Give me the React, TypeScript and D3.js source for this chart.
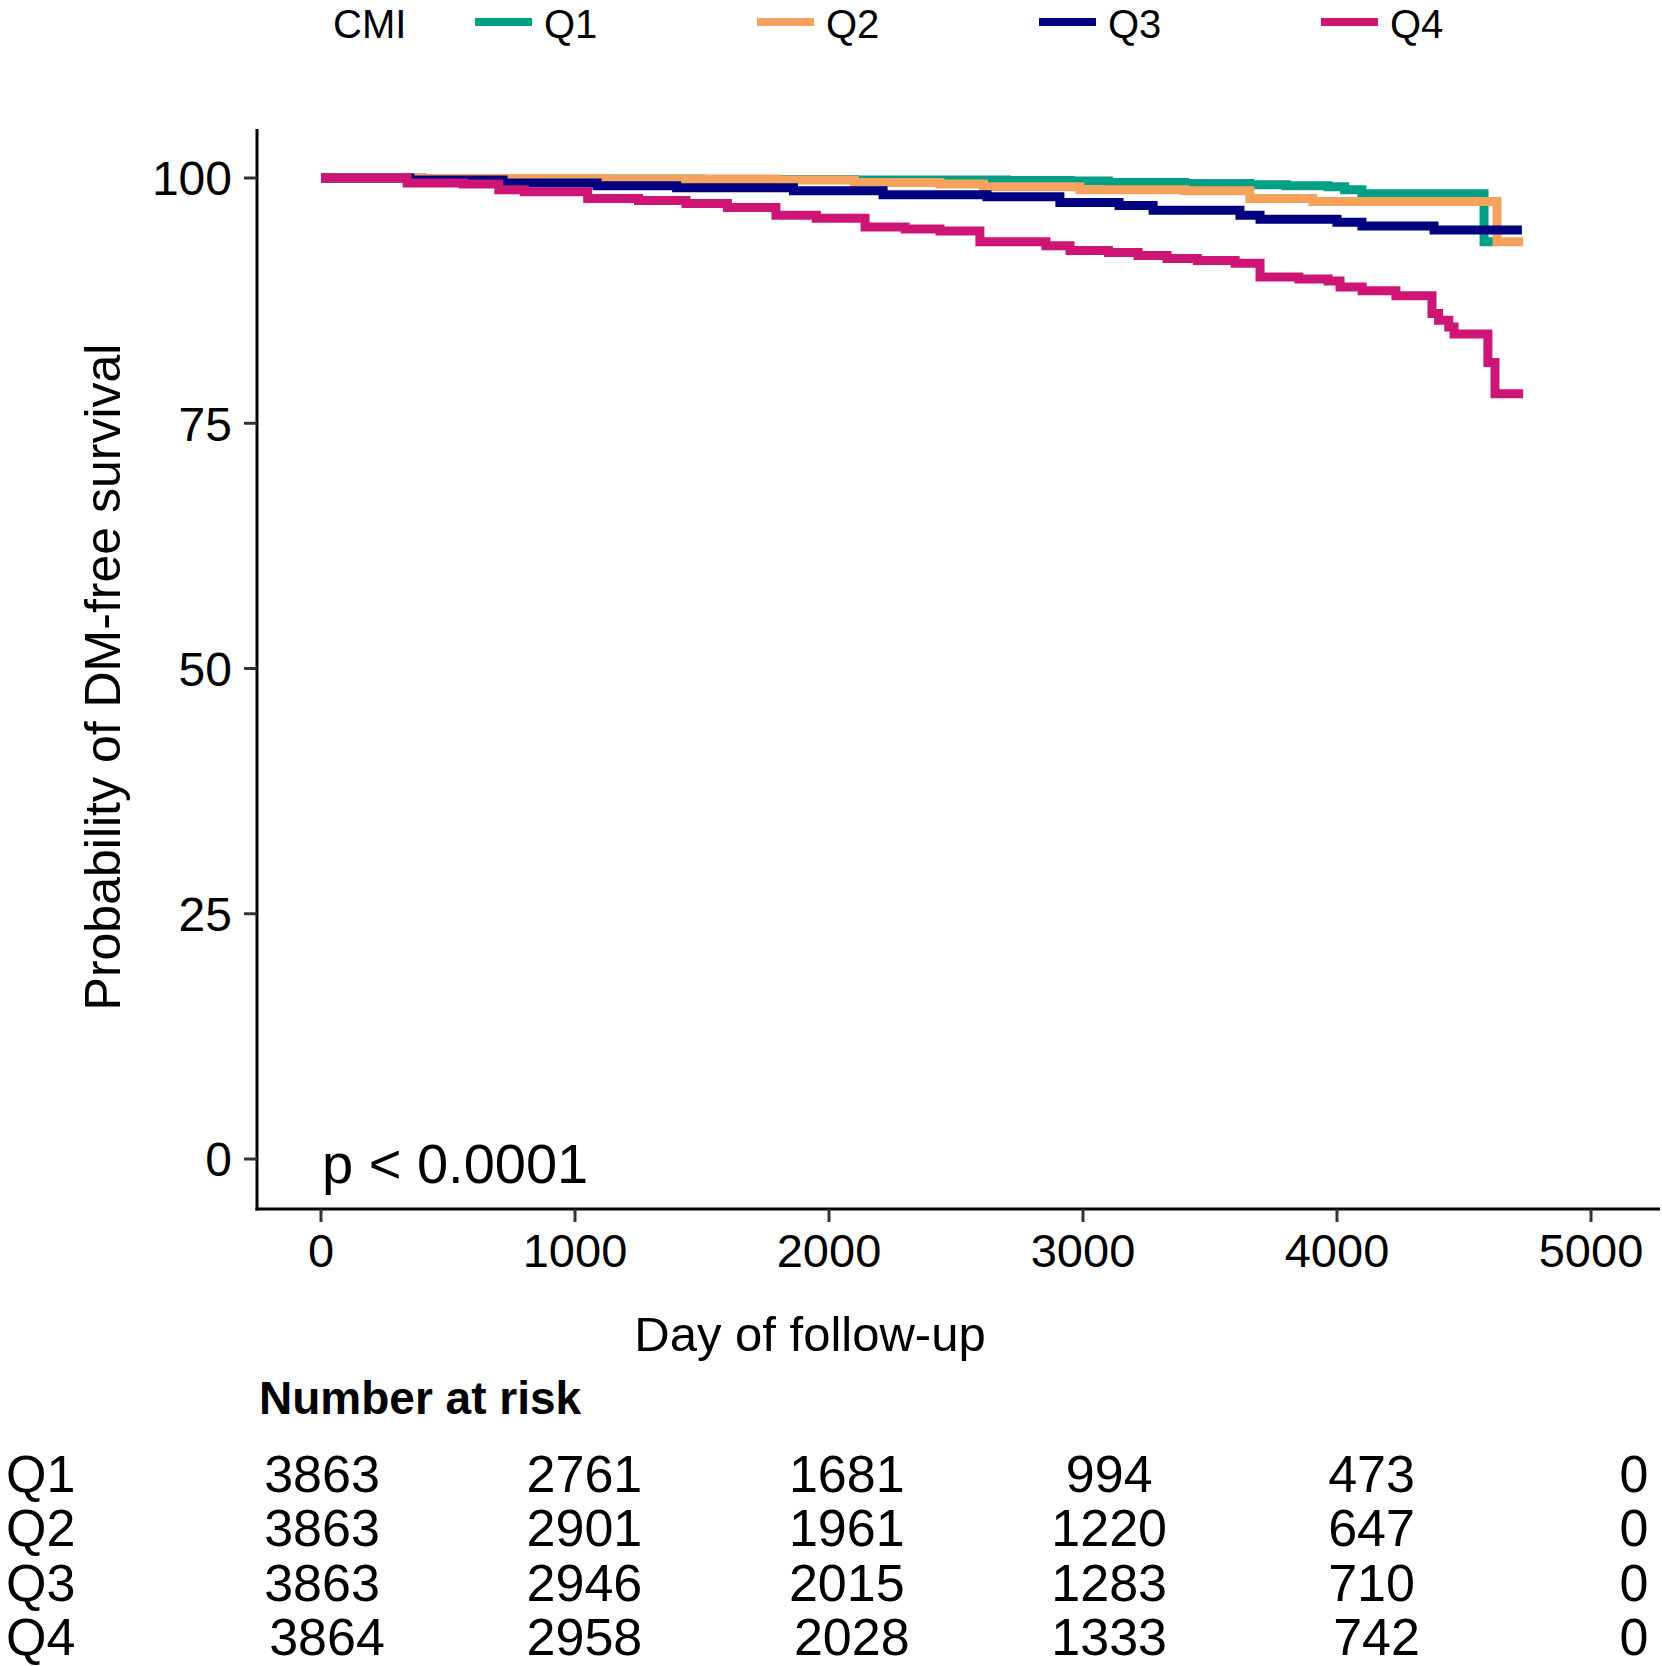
import * as d3 from "d3";
import React, { useRef, useEffect } from "react";

// survival curves (day, % DM-free), step-after
const q1Days = [0, 400, 900, 1500, 2100, 2700, 2950, 3100, 3400, 3657, 3800, 3965, 4030, 4098, 4579, 4620];
const q1Surv = [100, 99.95, 99.9, 99.85, 99.8, 99.75, 99.7, 99.55, 99.45, 99.3, 99.2, 99.1, 98.8, 98.4, 93.5, 93.5];

const q2Days = [0, 400, 1122, 1791, 2100, 2437, 2608, 2988, 3400, 3657, 3905, 4630, 4733];
const q2Surv = [100, 99.95, 99.9, 99.8, 99.55, 99.4, 99.1, 98.8, 98.7, 97.9, 97.6, 93.5, 93.5];

const q3Days = [0, 350, 717, 1087, 1400, 1860, 2213, 2622, 2909, 3142, 3276, 3618, 3697, 4000, 4098, 4382, 4728];
const q3Surv = [100, 99.8, 99.5, 99.2, 99.0, 98.7, 98.3, 98.1, 97.5, 97.2, 96.7, 96.2, 95.8, 95.5, 95.1, 94.7, 94.7];

const q4Days = [0, 339, 560, 700, 800, 1050, 1250, 1437, 1600, 1791, 1950, 2142, 2300, 2437, 2594, 2854, 2949, 3100, 3217, 3331, 3450, 3599, 3697, 3850, 3965, 4012, 4099, 4232, 4374, 4400, 4440, 4461, 4594, 4622, 4733];
const q4Surv = [100, 99.5, 99.4, 98.8, 98.6, 97.9, 97.7, 97.4, 97.0, 96.2, 95.9, 95.0, 94.8, 94.6, 93.5, 93.1, 92.6, 92.4, 92.1, 91.8, 91.6, 91.3, 89.9, 89.7, 89.5, 88.9, 88.5, 88.0, 86.2, 85.5, 84.8, 84.1, 81.2, 78.0, 78.0];

const groups = ["Q1", "Q2", "Q3", "Q4"];
const colors = ["#00A087", "#F5A35C", "#000080", "#CE1475"];

const riskTimes = [0, 1000, 2000, 3000, 4000, 5000];
const riskQ1 = [3863, 2761, 1681, 994, 473, 0];
const riskQ2 = [3863, 2901, 1961, 1220, 647, 0];
const riskQ3 = [3863, 2946, 2015, 1283, 710, 0];
const riskQ4 = [3864, 2958, 2028, 1333, 742, 0];

const xTicks = [0, 1000, 2000, 3000, 4000, 5000];
const yTicks = [0, 25, 50, 75, 100];

const FONT = "'Liberation Sans', Arial, sans-serif";

function App() {
    const ref = useRef(null);
    const width = 1662;
    const height = 1666;

    useEffect(() => {
        document.body.style.margin = "0";
        const svg = d3.select(ref.current);
        svg.selectAll("*").remove();

        const x = d3.scaleLinear().domain([0, 5000]).range([321, 1591]);
        const y = d3.scaleLinear().domain([0, 100]).range([1159, 178]);
        const axisLeft = 257;
        const axisBottom = 1209;

        // legend
        const legend = svg.append("g").style("font-family", FONT);
        legend
            .append("text")
            .attr("x", 333)
            .attr("y", 37.5)
            .attr("font-size", 40)
            .text("CMI");
        groups.forEach((g, i) => {
            const x0 = 475 + i * 282;
            legend
                .append("line")
                .attr("x1", x0)
                .attr("x2", x0 + 57)
                .attr("y1", 22)
                .attr("y2", 22)
                .attr("stroke", colors[i])
                .attr("stroke-width", 8);
            legend
                .append("text")
                .attr("x", x0 + 69)
                .attr("y", 37.5)
                .attr("font-size", 40)
                .text(g);
        });

        // curves
        const series = [
            [q1Days, q1Surv],
            [q2Days, q2Surv],
            [q3Days, q3Surv],
            [q4Days, q4Surv],
        ];
        const line = d3
            .line()
            .x((d) => x(d[0]))
            .y((d) => y(d[1]))
            .curve(d3.curveStepAfter);
        series.forEach(([days, surv], i) => {
            const pts = days.map((d, j) => [d, surv[j]]);
            svg.append("path")
                .attr("d", line(pts))
                .attr("fill", "none")
                .attr("stroke", colors[i])
                .attr("stroke-width", 9);
        });

        // axes
        svg.append("line")
            .attr("x1", axisLeft)
            .attr("x2", axisLeft)
            .attr("y1", 129)
            .attr("y2", axisBottom + 1.5)
            .attr("stroke", "black")
            .attr("stroke-width", 3);
        svg.append("line")
            .attr("x1", axisLeft - 1.5)
            .attr("x2", 1660)
            .attr("y1", axisBottom)
            .attr("y2", axisBottom)
            .attr("stroke", "black")
            .attr("stroke-width", 3);

        const yg = svg.append("g").style("font-family", FONT);
        yTicks.forEach((t) => {
            yg.append("line")
                .attr("x1", axisLeft - 13)
                .attr("x2", axisLeft)
                .attr("y1", y(t))
                .attr("y2", y(t))
                .attr("stroke", "#333")
                .attr("stroke-width", 3);
            yg.append("text")
                .attr("x", 232)
                .attr("y", y(t))
                .attr("dy", "0.36em")
                .attr("text-anchor", "end")
                .attr("font-size", 48)
                .text(t);
        });

        const xg = svg.append("g").style("font-family", FONT);
        xTicks.forEach((t) => {
            xg.append("line")
                .attr("x1", x(t))
                .attr("x2", x(t))
                .attr("y1", axisBottom)
                .attr("y2", axisBottom + 13)
                .attr("stroke", "#333")
                .attr("stroke-width", 3);
            xg.append("text")
                .attr("x", x(t))
                .attr("y", 1267)
                .attr("text-anchor", "middle")
                .attr("font-size", 47)
                .text(t);
        });

        // titles
        svg.append("text")
            .attr("transform", `translate(120, 677) rotate(-90)`)
            .attr("text-anchor", "middle")
            .style("font-family", FONT)
            .attr("font-size", 50)
            .text("Probability of DM-free survival");
        svg.append("text")
            .attr("x", 810)
            .attr("y", 1351)
            .attr("text-anchor", "middle")
            .style("font-family", FONT)
            .attr("font-size", 49)
            .text("Day of follow-up");
        svg.append("text")
            .attr("x", 322)
            .attr("y", 1183)
            .style("font-family", FONT)
            .attr("font-size", 56)
            .text("p < 0.0001");

        // risk table
        const xr = d3.scaleLinear().domain([0, 5000]).range([322, 1634]);
        svg.append("text")
            .attr("x", 259)
            .attr("y", 1414)
            .style("font-family", FONT)
            .attr("font-weight", "bold")
            .attr("font-size", 46)
            .text("Number at risk");
        const rows = [riskQ1, riskQ2, riskQ3, riskQ4];
        rows.forEach((row, i) => {
            const by = 1492 + i * 54.3;
            svg.append("text")
                .attr("x", 6)
                .attr("y", by)
                .style("font-family", FONT)
                .attr("font-size", 52)
                .text(groups[i]);
            row.forEach((v, j) => {
                // a few cells of the last row sit slightly right in the original
                const dx = i === 3 && j % 2 === 0 && j < row.length - 1 ? 5 : 0;
                svg.append("text")
                    .attr("x", xr(riskTimes[j]) + dx)
                    .attr("y", by)
                    .attr("text-anchor", "middle")
                    .style("font-family", FONT)
                    .attr("font-size", 52)
                    .text(v);
            });
        });
    }, []);

    return (
        <svg
            ref={ref}
            width={width}
            height={height}
            style={{ display: "block", background: "white" }}
        ></svg>
    );
}

export default App;
